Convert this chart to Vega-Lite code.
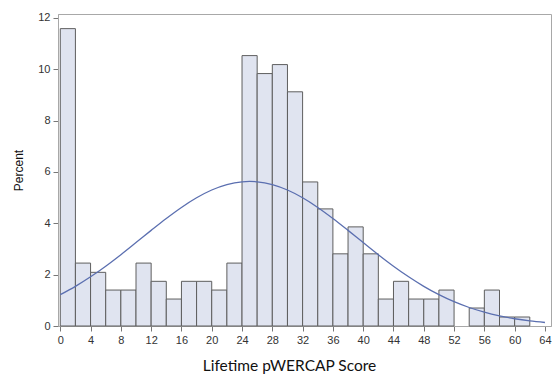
{
  "$schema": "https://vega.github.io/schema/vega-lite/v6.json",
  "width": 493,
  "height": 312,
  "autosize": {"type": "none"},
  "padding": {"left": 58, "top": 14, "right": 1, "bottom": 49},
  "background": "white",
  "config": {
    "view": {"stroke": "#a8a8a8", "strokeWidth": 1},
    "axis": {
      "labelFont": "Liberation Sans",
      "labelFontSize": 11,
      "labelColor": "#333333",
      "domainColor": "#a8a8a8",
      "tickColor": "#777777",
      "tickSize": 5,
      "grid": false
    }
  },
  "datasets": {
    "bars": [
      {"b0": 0, "b1": 2, "pct": 11.58},
      {"b0": 2, "b1": 4, "pct": 2.45},
      {"b0": 4, "b1": 6, "pct": 2.09},
      {"b0": 6, "b1": 8, "pct": 1.40},
      {"b0": 8, "b1": 10, "pct": 1.40},
      {"b0": 10, "b1": 12, "pct": 2.45},
      {"b0": 12, "b1": 14, "pct": 1.74},
      {"b0": 14, "b1": 16, "pct": 1.05},
      {"b0": 16, "b1": 18, "pct": 1.74},
      {"b0": 18, "b1": 20, "pct": 1.74},
      {"b0": 20, "b1": 22, "pct": 1.40},
      {"b0": 22, "b1": 24, "pct": 2.45},
      {"b0": 24, "b1": 26, "pct": 10.53},
      {"b0": 26, "b1": 28, "pct": 9.83},
      {"b0": 28, "b1": 30, "pct": 10.18},
      {"b0": 30, "b1": 32, "pct": 9.12},
      {"b0": 32, "b1": 34, "pct": 5.61},
      {"b0": 34, "b1": 36, "pct": 4.56},
      {"b0": 36, "b1": 38, "pct": 2.81},
      {"b0": 38, "b1": 40, "pct": 3.86},
      {"b0": 40, "b1": 42, "pct": 2.81},
      {"b0": 42, "b1": 44, "pct": 1.05},
      {"b0": 44, "b1": 46, "pct": 1.74},
      {"b0": 46, "b1": 48, "pct": 1.05},
      {"b0": 48, "b1": 50, "pct": 1.05},
      {"b0": 50, "b1": 52, "pct": 1.40},
      {"b0": 54, "b1": 56, "pct": 0.70},
      {"b0": 56, "b1": 58, "pct": 1.40},
      {"b0": 58, "b1": 60, "pct": 0.35},
      {"b0": 60, "b1": 62, "pct": 0.35}
    ],
    "curve": [
      {"x": 0, "y": 1.22},
      {"x": 2, "y": 1.545},
      {"x": 4, "y": 1.916},
      {"x": 6, "y": 2.329},
      {"x": 8, "y": 2.777},
      {"x": 10, "y": 3.248},
      {"x": 12, "y": 3.724},
      {"x": 14, "y": 4.188},
      {"x": 16, "y": 4.618},
      {"x": 18, "y": 4.994},
      {"x": 20, "y": 5.296},
      {"x": 22, "y": 5.507},
      {"x": 24, "y": 5.616},
      {"x": 25, "y": 5.63},
      {"x": 26, "y": 5.616},
      {"x": 28, "y": 5.507},
      {"x": 30, "y": 5.296},
      {"x": 32, "y": 4.994},
      {"x": 34, "y": 4.618},
      {"x": 36, "y": 4.188},
      {"x": 38, "y": 3.724},
      {"x": 40, "y": 3.248},
      {"x": 42, "y": 2.777},
      {"x": 44, "y": 2.329},
      {"x": 46, "y": 1.916},
      {"x": 48, "y": 1.545},
      {"x": 50, "y": 1.22},
      {"x": 52, "y": 0.947},
      {"x": 54, "y": 0.72},
      {"x": 56, "y": 0.537},
      {"x": 58, "y": 0.393},
      {"x": 60, "y": 0.282},
      {"x": 62, "y": 0.198},
      {"x": 64, "y": 0.137}
    ]
  },
  "layer": [
    {
      "data": {"name": "bars"},
      "mark": {"type": "rect", "fill": "#e0e4f0", "stroke": "#5e5e5e", "strokeWidth": 1},
      "encoding": {
        "x": {
          "field": "b0", "type": "quantitative",
          "scale": {"domain": [-0.3, 64.8], "nice": false, "zero": false},
          "axis": {
            "values": [0, 4, 8, 12, 16, 20, 24, 28, 32, 36, 40, 44, 48, 52, 56, 60, 64],
            "tickCount": 20,
            "labelOverlap": false,
            "labelBound": false,
            "labelFlush": false,
            "title": "Lifetime pWERCAP Score",
            "titleFont": "Lato",
            "titleFontSize": 15.5,
            "titleFontWeight": "normal",
            "titleColor": "#111111",
            "titlePadding": 13,
            "titleX": 231,
            "titleAlign": "center",
            "labelPadding": 3
          }
        },
        "x2": {"field": "b1"},
        "y": {
          "field": "pct", "type": "quantitative",
          "scale": {"domain": [0, 12.15], "nice": false},
          "axis": {
            "values": [0, 2, 4, 6, 8, 10, 12],
            "tickCount": 10,
            "title": "Percent",
            "titleFont": "Liberation Sans",
            "titleFontSize": 12,
            "titleFontWeight": "normal",
            "titleColor": "#111111",
            "titlePadding": 12,
            "labelPadding": 3
          }
        },
        "y2": {"datum": 0}
      }
    },
    {
      "data": {"name": "curve"},
      "mark": {"type": "line", "color": "#5b6fb0", "strokeWidth": 1.3, "interpolate": "monotone"},
      "encoding": {
        "x": {"field": "x", "type": "quantitative"},
        "y": {"field": "y", "type": "quantitative"}
      }
    }
  ]
}
